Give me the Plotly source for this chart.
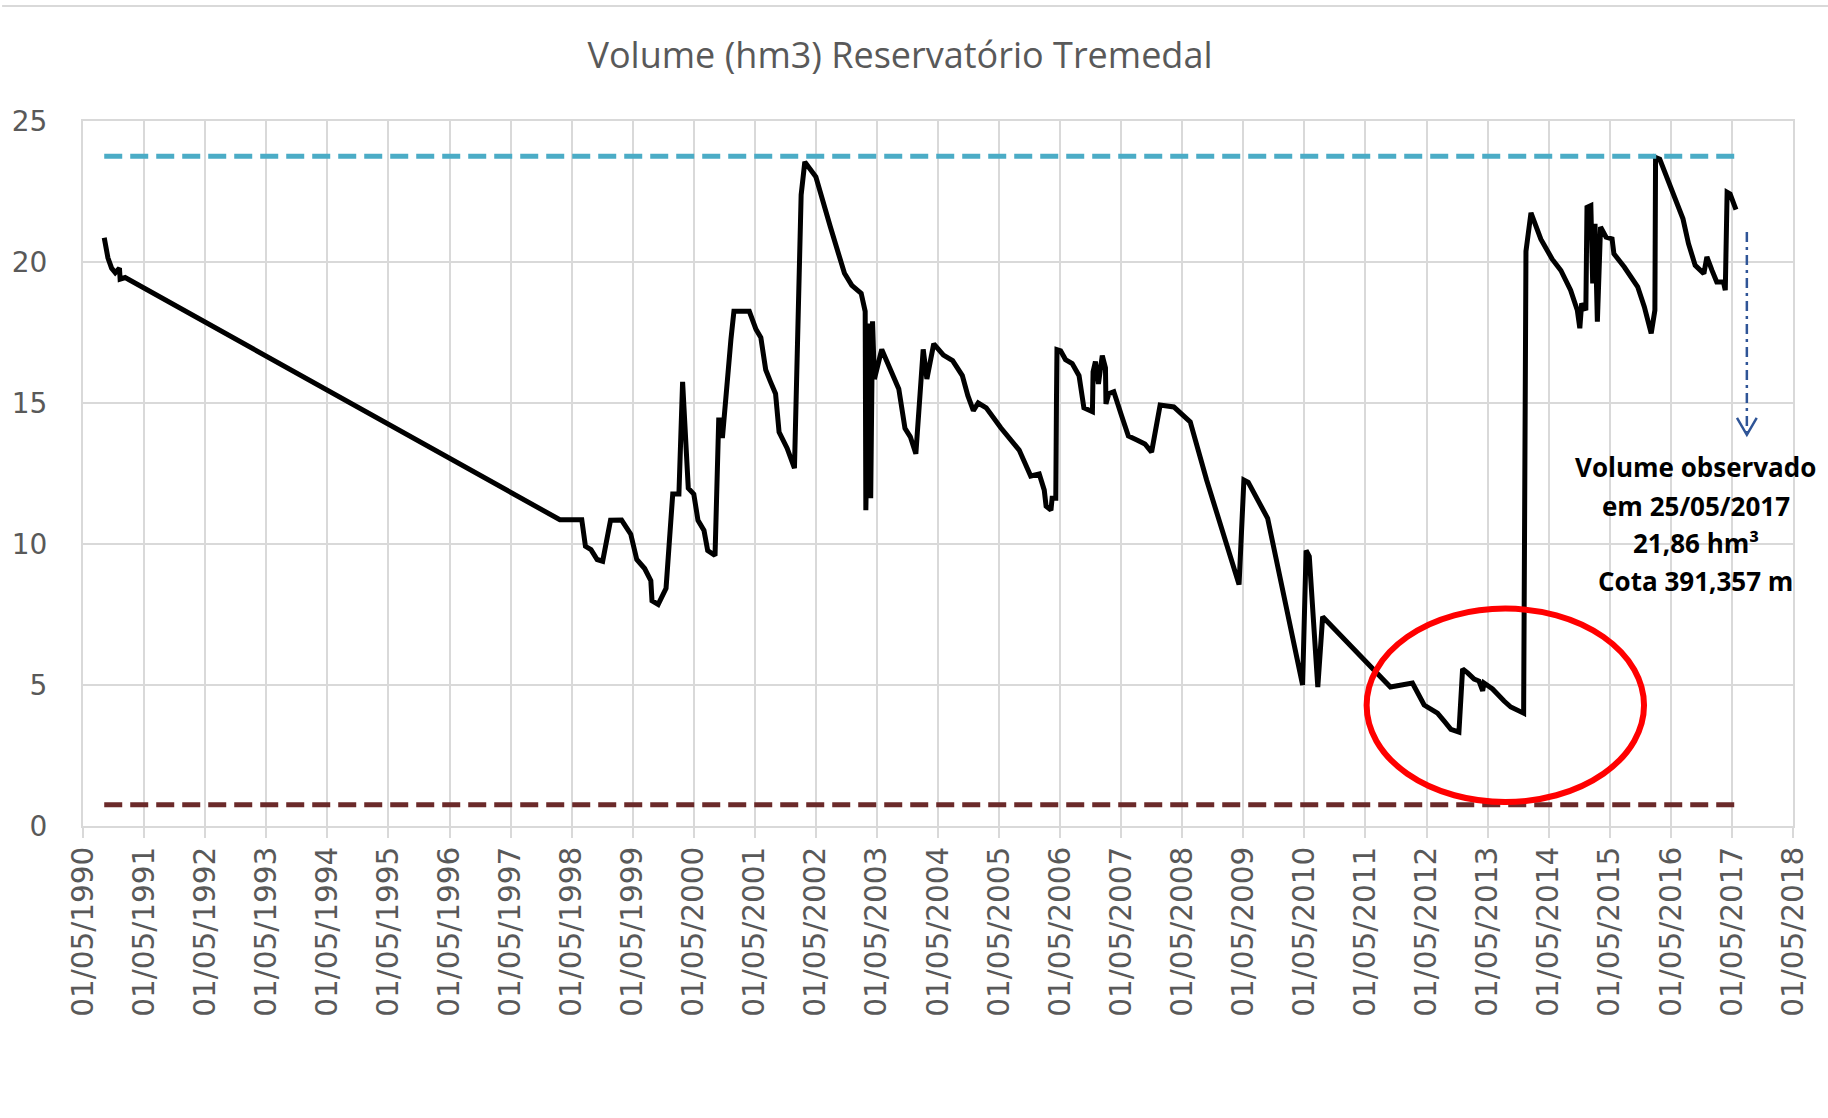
import plotly.graph_objects as go

# ---------------- data ----------------
dates = [
    "1990-09-05", "1990-09-27", "1990-10-19", "1990-11-10", "1990-12-05", "1990-12-09", "1991-01-08",
    "1998-02-20", "1998-07-01", "1998-07-23", "1998-08-25", "1998-10-01", "1998-11-03", "1998-12-20",
    "1999-02-24", "1999-04-20", "1999-05-26", "1999-07-12", "1999-08-18", "1999-08-25", "1999-10-01",
    "1999-11-17", "1999-12-27", "2000-02-02", "2000-02-24", "2000-03-29", "2000-05-01", "2000-05-26",
    "2000-07-01", "2000-07-23", "2000-09-05", "2000-09-27", "2000-10-08", "2000-10-19", "2000-12-09",
    "2000-12-27", "2001-03-29", "2001-05-08", "2001-06-06", "2001-07-05", "2001-08-03", "2001-09-02",
    "2001-09-23", "2001-11-10", "2001-12-24", "2002-01-16", "2002-02-02", "2002-02-24", "2002-03-25",
    "2002-05-01", "2002-07-27", "2002-10-19", "2002-12-02", "2003-01-27", "2003-02-20", "2003-02-24",
    "2003-03-14", "2003-03-25", "2003-04-05", "2003-04-16", "2003-05-30", "2003-09-09", "2003-10-16",
    "2003-11-17", "2003-12-20", "2004-02-02", "2004-02-24", "2004-04-05", "2004-06-02", "2004-07-27",
    "2004-09-23", "2004-10-26", "2004-11-28", "2004-12-27", "2005-02-13", "2005-05-11", "2005-08-29",
    "2005-11-06", "2005-12-27", "2006-01-26", "2006-02-06", "2006-03-07", "2006-03-14", "2006-04-05",
    "2006-04-09", "2006-04-12", "2006-05-04", "2006-06-02", "2006-07-12", "2006-08-22", "2006-09-20",
    "2006-11-10", "2006-11-14", "2006-11-28", "2006-12-16", "2007-01-08", "2007-01-27", "2007-01-30",
    "2007-02-16", "2007-03-18", "2007-05-04", "2007-06-13", "2007-08-03", "2007-09-20", "2007-10-30",
    "2007-12-20", "2008-03-11", "2008-06-17", "2008-09-23", "2009-01-01", "2009-04-05", "2009-05-04",
    "2009-05-30", "2009-09-23", "2010-04-20", "2010-05-11", "2010-05-30", "2010-07-20", "2010-08-18",
    "2011-09-27", "2012-02-06", "2012-04-16", "2012-07-05", "2012-08-14", "2012-09-23", "2012-11-10",
    "2012-12-02", "2013-01-01", "2013-02-09", "2013-03-10", "2013-04-01", "2013-04-09", "2013-05-30",
    "2013-08-07", "2013-09-16", "2013-12-02", "2013-12-16", "2014-01-15", "2014-03-15", "2014-05-22",
    "2014-07-13", "2014-09-09", "2014-10-19", "2014-11-03", "2014-11-14", "2014-12-09", "2014-12-16",
    "2015-01-08", "2015-01-19", "2015-02-02", "2015-02-16", "2015-03-07", "2015-04-09", "2015-05-15",
    "2015-05-26", "2015-07-27", "2015-10-15", "2015-11-24", "2016-01-04", "2016-01-26", "2016-01-30",
    "2016-02-24", "2016-04-23", "2016-07-12", "2016-08-14", "2016-09-23", "2016-11-14", "2016-12-02",
    "2017-01-01", "2017-01-30", "2017-03-11", "2017-03-22", "2017-04-02", "2017-04-20", "2017-05-25",
]
volume = [
    20.86, 20.15, 19.78, 19.62, 19.78, 19.39, 19.45,
    10.86, 10.86, 9.92, 9.80, 9.45, 9.39, 10.84,
    10.85, 10.35, 9.45, 9.13, 8.70, 7.99, 7.86,
    8.43, 11.77, 11.77, 15.75, 11.98, 11.77, 10.84,
    10.48, 9.77, 9.59, 14.40, 14.40, 13.76, 17.25,
    18.25, 18.25, 17.61, 17.32, 16.18, 15.75, 15.33,
    13.97, 13.40, 12.69, 18.68, 22.38, 23.55, 23.30,
    23.02, 21.24, 19.60, 19.17, 18.89, 18.25, 11.20,
    17.82, 11.62, 17.90, 15.85, 16.90, 15.50, 14.10,
    13.80, 13.20, 16.90, 15.85, 17.10, 16.70, 16.50,
    15.97, 15.26, 14.73, 15.00, 14.83, 14.12, 13.33,
    12.41, 12.48, 11.91, 11.34, 11.20, 11.62, 11.62,
    15.04, 16.89, 16.85, 16.54, 16.40, 15.97, 14.83,
    14.69, 16.11, 16.47, 15.68, 16.68, 16.25, 14.97,
    15.33, 15.40, 14.54, 13.83, 13.69, 13.55, 13.26,
    14.93, 14.86, 14.33, 12.27, 10.41, 8.56, 12.27,
    12.19, 10.91, 5.00, 9.77, 9.56, 4.93, 7.42,
    4.93, 5.07, 4.29, 4.00, 3.72, 3.43, 3.33,
    5.57, 5.43, 5.21, 5.14, 4.79, 5.07, 4.86,
    4.43, 4.22, 4.00, 20.38, 21.74, 20.81, 20.10,
    19.70, 19.00, 18.29, 17.65, 18.53, 18.29, 21.94,
    22.00, 19.24, 21.35, 17.88, 21.24, 20.88, 20.82,
    20.29, 19.82, 19.12, 18.41, 17.47, 18.29, 23.71,
    23.65, 22.76, 21.53, 20.65, 19.88, 19.59, 20.18,
    19.71, 19.29, 19.29, 19.00, 22.47, 22.41, 21.86,
]
volume_max = 23.75
volume_min = 0.75

title_text = "Volume (hm3) Reservatório Tremedal"
note_lines = ["Volume observado", "em 25/05/2017", "21,86 hm³", "Cota 391,357 m"]

# ---------------- figure ----------------
W, H = 1828, 1118
ML, MR, MT, MB = 81, 35, 121, 292
PW, PH = W - ML - MR, H - MT - MB

GRID = "#D9D9D9"
TXT = "#595959"

fig = go.Figure()
fig.add_trace(go.Scatter(x=dates, y=volume, mode="lines",
                         line=dict(color="black", width=5), showlegend=False, hoverinfo="x+y"))
fig.add_trace(go.Scatter(x=[dates[0], dates[-1]], y=[volume_max, volume_max], mode="lines",
                         line=dict(color="#4BACC6", width=5, dash="18px,8px"), showlegend=False))
fig.add_trace(go.Scatter(x=[dates[0], dates[-1]], y=[volume_min, volume_min], mode="lines",
                         line=dict(color="#6B2A2A", width=5, dash="18px,8px"), showlegend=False))

shapes = [
    # red ellipse
    dict(type="circle", xref="x", yref="y", x0="2011-05-08", x1="2015-11-22", y0=0.85, y1=7.71,
         line=dict(color="#FF0000", width=6), layer="above"),
    # dash-dot arrow shaft
    dict(type="line", xref="x", yref="y", x0="2017-07-29", x1="2017-07-29", y0=21.06, y1=13.95,
         line=dict(color="#2F5597", width=2.5, dash="10px,5px,3px,5px")),
    # arrow head
    dict(type="path", xref="x", yref="y",
         path="M 2017-05-31,14.47 L 2017-07-29,13.87 L 2017-09-26,14.47",
         line=dict(color="#2F5597", width=2.5)),
    # chart border top line
    dict(type="line", xref="paper", yref="paper", x0=-ML / PW, x1=1 + MR / PW,
         y0=1 + (MT - 6) / PH, y1=1 + (MT - 6) / PH, line=dict(color=GRID, width=2)),
]

annotations = []
note_y = [12.73, 11.35, 10.04, 8.69]
for txt, yv in zip(note_lines, note_y):
    annotations.append(dict(x="2016-09-27", y=yv, xref="x", yref="y", text=txt, showarrow=False,
                            xanchor="center", yanchor="middle",
                            font=dict(family="Open Sans", size=26, color="black", weight="bold")))

fig.update_layout(
    width=W, height=H,
    margin=dict(l=ML, r=MR, t=MT, b=MB, pad=0),
    paper_bgcolor="white", plot_bgcolor="white",
    title=dict(text=title_text, x=900 / W, xref="container", xanchor="center",
               y=1 - 55 / H, yref="container", yanchor="middle",
               font=dict(family="Open Sans, sans-serif", size=36, color=TXT)),
    shapes=shapes,
    annotations=annotations,
    showlegend=False,
)
fig.update_xaxes(
    type="date", range=["1990-05-01", "2018-05-01"],
    tick0="1990-05-01", dtick="M12", tickformat="%d/%m/%Y", tickangle=-90,
    showgrid=True, gridcolor=GRID, gridwidth=2,
    showline=True, linecolor=GRID, linewidth=2, mirror=True,
    ticks="outside", ticklen=10, tickcolor=GRID, tickwidth=2,
    ticklabelstandoff=-3,
    tickfont=dict(family="DejaVu Sans", size=29.5, color=TXT),
    zeroline=False,
)
fig.update_yaxes(
    range=[0, 25], tick0=0, dtick=5,
    showgrid=True, gridcolor=GRID, gridwidth=2,
    showline=True, linecolor=GRID, linewidth=2, mirror=True,
    ticks="", ticklabelstandoff=28,
    tickfont=dict(family="DejaVu Sans", size=28, color=TXT),
    zeroline=False,
)

fig.write_html("out.html", config={"displayModeBar": False},
               post_script="document.body.style.margin='0';document.body.style.overflow='hidden';")
